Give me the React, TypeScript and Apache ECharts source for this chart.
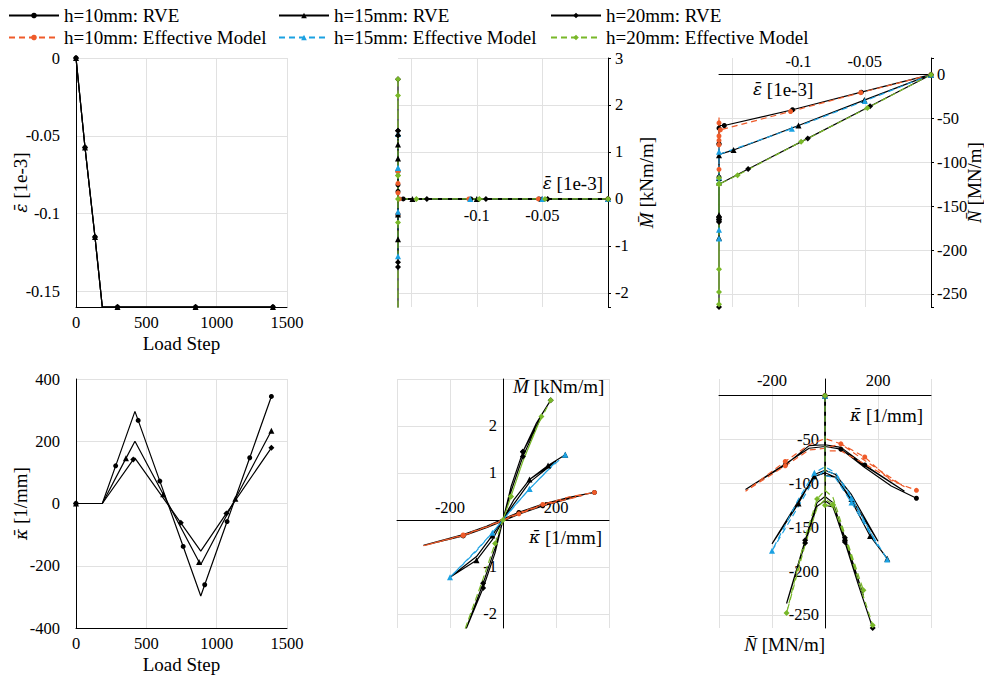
import React, { useEffect, useRef } from "react";
import * as echarts from "echarts";

const FONT = "'Liberation Serif', 'DejaVu Serif', serif";
const GREEK_FONT = "'DejaVu Serif', serif";
const GRID_COLOR = "#e1e1e1";
const RED = "#ef5b2a";
const BLUE = "#1ba1e2";
const GREEN = "#79b829";
const BLACK = "#000000";

const NAME_R10 = "h=10mm: RVE";
const NAME_R15 = "h=15mm: RVE";
const NAME_R20 = "h=20mm: RVE";
const NAME_E10 = "h=10mm: Effective Model";
const NAME_E15 = "h=15mm: Effective Model";
const NAME_E20 = "h=20mm: Effective Model";

// ---- Panel 1: strain vs load step (RVE, identical for all h)
const epsSteps = [0, 64, 135, 187, 295, 850, 1400];
const epsValues = [0, -0.0575, -0.115, -0.16, -0.16, -0.16, -0.16];
const epsMarks = [0, 1, 2, 4, 5, 6];

// ---- Panel 4: curvature vs load step (RVE)
const kSteps10 = [0, 187, 282, 419, 442, 596, 762, 887, 915, 1074, 1235, 1389];
const kVals10 = [0, 0, 121, 296, 267, 72, -138, -297, -261, -58, 147, 344];
const kMarks10 = [0, 2, 4, 5, 6, 8, 9, 10, 11];
const kSteps15 = [0, 187, 355, 419, 620, 875, 887, 1133, 1389];
const kVals15 = [0, 0, 145, 200, 30, -188, -196, 15, 234];
const kMarks15 = [0, 2, 4, 5, 7, 8];
const kSteps20 = [0, 187, 407, 419, 745, 887, 1069, 1389];
const kVals20 = [0, 0, 141, 146, -62, -153, -32, 179];
const kMarks20 = [0, 2, 4, 6, 7];

// ---- Pre-compression ramp (strain, normal force), before curvature cycling
const EPS_HOLD = -0.16;
const rampEpsR10 = [0, -0.0526, -0.1045, -0.156];
const rampNR10 = [0, -20, -40, -58];
const rampEpsE10 = [0, -0.053, -0.106, -0.159];
const rampNE10 = [0, -20.5, -42, -63];
const rampEpsR15 = [0, -0.0503, -0.1, -0.149];
const rampNR15 = [0, -29, -58, -86];
const rampEpsE15 = [0, -0.05, -0.105];
const rampNE15 = [0, -30, -61.6];
const rampEpsR20 = [0, -0.046, -0.093, -0.138];
const rampNR20 = [0, -36, -72.7, -107.6];
const rampEpsE20 = [0, -0.048, -0.098, -0.146];
const rampNE20 = [0, -38, -76.6, -114.6];

// ---- Curvature cycle paths (1/mm)
const kPath10 = [0, 60, 150, 300, 150, 60, 0, -60, -150, -300, -150, -60, 0, 60, 150, 250, 345];
const kPath15 = [0, 40, 100, 200, 100, 40, 0, -40, -100, -200, -100, -40, 0, 40, 100, 170, 235];
const kPath20 = [0, 30, 75, 145, 75, 30, 0, -30, -75, -145, -75, -30, 0, 30, 75, 125, 180];

// Moment along the cycle (kNm/m)
const mR10 = [0, 0.15, 0.33, 0.53, 0.3, 0.12, -0.02, -0.16, -0.34, -0.54, -0.31, -0.13, 0.02, 0.16, 0.34, 0.48, 0.585];
const mE10 = [0, 0.14, 0.32, 0.52, 0.31, 0.13, -0.01, -0.15, -0.33, -0.55, -0.32, -0.14, 0.01, 0.15, 0.33, 0.49, 0.585];
const mR15 = [0, 0.42, 0.86, 1.25, 0.8, 0.33, 0.0, -0.42, -0.86, -1.22, -0.78, -0.33, 0.02, 0.42, 0.86, 1.16, 1.39];
const mE15 = [0, 0.28, 0.66, 1.24, 0.66, 0.27, 0.0, -0.27, -0.64, -1.22, -0.66, -0.27, 0, 0.28, 0.66, 1.06, 1.39];
const mR20 = [0, 0.7, 1.45, 2.2, 1.35, 0.6, 0.0, -0.7, -1.45, -2.4, -1.35, -0.6, 0.0, 0.7, 1.45, 2.05, 2.55];
const mE20 = [0, 0.5, 1.25, 2.2, 1.25, 0.5, 0.0, -0.5, -1.25, -2.35, -1.25, -0.5, 0, 0.5, 1.25, 1.95, 2.55];

// Normal force along the cycle (MN/m)
const nR10 = [-58, -61, -80, -109, -79, -59, -56, -57, -79, -107, -78, -60, -58, -61, -82, -103, -117];
const nE10 = [-63, -63, -78, -104, -74, -55, -49, -56, -75, -109, -80, -62, -60, -55, -70, -97, -108];
const nR15 = [-91, -93, -118, -166, -113, -90, -85, -90, -123, -169, -120, -92, -88, -93, -120, -160, -186];
const nE15 = [-91, -94, -122, -172, -115, -88, -81, -88, -118, -177, -126, -95, -85, -90, -117, -155, -187];
const nR20 = [-125, -127, -165, -228, -162, -122, -115, -122, -165, -237, -168, -126, -120, -126, -167, -215, -265];
const nE20 = [-125, -125, -160, -222, -158, -116, -108, -118, -162, -248, -170, -128, -118, -124, -162, -210, -262];

// Marker indices along the cycle
const cMarksR10 = [4, 8, 13, 16];
const cMarksE10 = [5, 8, 10, 14, 16];
const cMarksR15 = [2, 8, 11, 15, 16];
const cMarksE15 = [2, 7, 9, 14, 16];
const cMarksR20 = [2, 4, 8, 10, 14, 16];
const cMarksE20 = [0, 1, 3, 7, 9, 13, 16];

type Pt = [number, number];
const zipPts = (xs: number[], ys: number[]): Pt[] => xs.map((x, i) => [x, ys[i]] as Pt);
const withMarks = (pts: Pt[], marks: number[]) =>
  pts.map((p, i) => (marks.includes(i) ? { value: p } : { value: p, symbol: "none" }));

const holdPath = (rampX: number[], rampY: number[], cycleY: number[], cycleMarks: number[]) => {
  const pts: Pt[] = [...zipPts(rampX, rampY), ...cycleY.map((y) => [EPS_HOLD, y] as Pt)];
  const marks = [...rampX.map((_, i) => i), ...cycleMarks.map((i) => i + rampX.length)];
  return withMarks(pts, marks);
};
const zeroRamp = (rampX: number[]) => rampX.map(() => 0);
const withStart = (ks: number[], ns: number[], marks: number[]) =>
  withMarks([[0, 0], ...zipPts(ks, ns)], [0, ...marks.map((i) => i + 1)]);

const fmt = (v: number) => String(parseFloat(v.toFixed(4)));
const only = (vals: number[]) => (v: number) =>
  vals.some((a) => Math.abs(a - v) < 1e-7) ? fmt(v) : "";

const LABEL = { fontFamily: FONT, fontSize: 16.5, color: BLACK };
const NAME_STYLE = (extra: any = {}) => ({
  fontFamily: FONT,
  fontSize: 19,
  color: BLACK,
  rich: {
    i: { fontFamily: FONT, fontSize: 19, fontStyle: "italic", color: BLACK },
    g: { fontFamily: GREEK_FONT, fontSize: 17, fontStyle: "italic", color: BLACK },
  },
  ...extra,
});
const AX_LINE = () => ({ show: true, onZero: false, lineStyle: { color: BLACK, width: 1 } });
const SPLIT = (extra: any = {}) => ({ show: true, lineStyle: { color: GRID_COLOR, width: 1 }, ...extra });

const EPS_NAME = "{g|ε\u0304} [1e-3]";
const M_NAME = "{i|M\u0304} [kNm/m]";
const N_NAME = "{i|N\u0304} [MN/m]";
const K_NAME = "{g|κ\u0304} [1/mm]";

function line(name: string, grid: number, data: any[], color: string, dashed: boolean, symbol: string) {
  return {
    type: "line",
    name,
    xAxisIndex: grid,
    yAxisIndex: grid,
    data,
    symbol,
    symbolSize: symbol === "circle" ? 5 : 6,
    showSymbol: true,
    lineStyle: { color, width: 1.2, type: dashed ? [6, 4] : "solid" },
    itemStyle: { color },
    emphasis: { disabled: true },
    silent: true,
  };
}

type Offs = { x1: number; x2: number; x4: number; x5: number; y4: number; y5: number };

function buildAxes(o: Offs) {
  const common = { type: "value", nameMoveOverlap: false, axisTick: { show: false } };
  const xAxis = [
    {
      ...common, gridIndex: 0, min: 0, max: 1500, interval: 500,
      axisLine: AX_LINE(), splitLine: SPLIT(),
      axisLabel: { ...LABEL, margin: 7, formatter: fmt },
      name: "Load Step", nameLocation: "middle", nameGap: 27, nameTextStyle: NAME_STYLE(),
    },
    {
      ...common, gridIndex: 1, min: -0.16, max: 0, splitNumber: 3, offset: o.x1,
      axisLine: AX_LINE(), splitLine: SPLIT({ showMinLine: false }),
      axisLabel: { ...LABEL, margin: 8, verticalAlign: "top", formatter: only([-0.1, -0.05]) },
      name: EPS_NAME, nameLocation: "end", nameGap: -5,
      nameTextStyle: NAME_STYLE({ align: "right", verticalAlign: "bottom", padding: [0, 0, 6, 0] }),
    },
    {
      ...common, gridIndex: 2, min: -0.16, max: 0, splitNumber: 3, offset: o.x2,
      axisLine: AX_LINE(), splitLine: SPLIT({ showMinLine: false }),
      axisLabel: { ...LABEL, inside: true, margin: 5, formatter: only([-0.1, -0.05]) },
      name: EPS_NAME, nameLocation: "start", nameGap: -34,
      nameTextStyle: NAME_STYLE({ align: "left", verticalAlign: "top", padding: [5, 0, 0, 0] }),
    },
    {
      ...common, gridIndex: 3, min: 0, max: 1500, interval: 500,
      axisLine: AX_LINE(), splitLine: SPLIT(),
      axisLabel: { ...LABEL, margin: 7, formatter: fmt },
      name: "Load Step", nameLocation: "middle", nameGap: 27, nameTextStyle: NAME_STYLE(),
    },
    {
      ...common, gridIndex: 4, min: -400, max: 400, interval: 200, offset: o.x4,
      axisLine: AX_LINE(), splitLine: SPLIT(),
      axisLabel: { ...LABEL, inside: true, margin: 4, formatter: only([-200, 200]) },
      name: K_NAME, nameLocation: "end", nameGap: -7,
      nameTextStyle: NAME_STYLE({ align: "right", verticalAlign: "top", padding: [8, 0, 0, 0] }),
    },
    {
      ...common, gridIndex: 5, min: -400, max: 400, interval: 200, offset: o.x5,
      axisLine: AX_LINE(), splitLine: SPLIT(),
      axisLabel: { ...LABEL, inside: true, margin: 7, formatter: only([-200, 200]) },
      name: K_NAME, nameLocation: "end", nameGap: -8,
      nameTextStyle: NAME_STYLE({ align: "right", verticalAlign: "top", padding: [10, 0, 0, 0] }),
    },
  ];

  const yAxis = [
    {
      ...common, gridIndex: 0, min: -0.16, max: 0, splitNumber: 3,
      axisLine: AX_LINE(), splitLine: SPLIT({ showMinLine: false }),
      axisLabel: { ...LABEL, margin: 16, formatter: only([0, -0.05, -0.1, -0.15]) },
      name: EPS_NAME, nameLocation: "middle", nameGap: 46, nameRotate: 90, nameTextStyle: NAME_STYLE(),
    },
    {
      ...common, gridIndex: 1, position: "right", min: -2.3, max: 3,
      axisLine: AX_LINE(), splitLine: SPLIT({ showMinLine: false }),
      axisTick: { show: true, length: 3, lineStyle: { color: BLACK } },
      axisLabel: { ...LABEL, margin: 7, formatter: only([-2, -1, 0, 1, 2, 3]) },
      name: M_NAME, nameLocation: "middle", nameGap: 29, nameRotate: 90, nameTextStyle: NAME_STYLE(),
    },
    {
      ...common, gridIndex: 2, position: "right", min: -265, max: 19,
      axisLine: AX_LINE(), splitLine: SPLIT({ showMinLine: false, showMaxLine: false }),
      axisTick: { show: true, length: 3, lineStyle: { color: BLACK } },
      axisLabel: { ...LABEL, margin: 6, formatter: only([0, -50, -100, -150, -200, -250]) },
      name: N_NAME, nameLocation: "middle", nameGap: 34, nameRotate: 90, nameTextStyle: NAME_STYLE(),
    },
    {
      ...common, gridIndex: 3, min: -400, max: 400, interval: 200,
      axisLine: AX_LINE(), splitLine: SPLIT(),
      axisLabel: { ...LABEL, margin: 16 },
      name: K_NAME, nameLocation: "middle", nameGap: 46, nameRotate: 90, nameTextStyle: NAME_STYLE(),
    },
    {
      ...common, gridIndex: 4, min: -2.3, max: 3, offset: o.y4,
      axisLine: AX_LINE(), splitLine: SPLIT({ showMinLine: false }),
      axisLabel: { ...LABEL, margin: 6, formatter: only([-2, -1, 1, 2]) },
      name: M_NAME, nameLocation: "end", nameGap: 2,
      nameTextStyle: NAME_STYLE({ align: "left", verticalAlign: "top", padding: [0, 0, 0, 10] }),
    },
    {
      ...common, gridIndex: 5, min: -265, max: 19, offset: o.y5,
      axisLine: AX_LINE(), splitLine: SPLIT({ showMinLine: false, showMaxLine: false }),
      axisLabel: { ...LABEL, margin: 6, formatter: only([-50, -100, -150, -200, -250]) },
      name: N_NAME, nameLocation: "start", nameGap: 7,
      nameTextStyle: NAME_STYLE({ align: "right", verticalAlign: "top" }),
    },
  ];
  return { xAxis, yAxis };
}

export default function App() {
  const ref = useRef<HTMLDivElement>(null);
  useEffect(() => {
    if (!ref.current) return;
    const chart = echarts.init(ref.current, undefined, { renderer: "svg" });

    const grids = [
      { left: 76, top: 58, width: 211, height: 249 },
      { left: 398, top: 58, width: 210, height: 249 },
      { left: 719, top: 58, width: 212, height: 249 },
      { left: 76, top: 379, width: 211, height: 249 },
      { left: 397, top: 379, width: 212, height: 249 },
      { left: 719, top: 379, width: 212, height: 249 },
    ].map((g) => ({ ...g, outerBoundsMode: "none", containLabel: false }));

    const p1 = withMarks(zipPts(epsSteps, epsValues), epsMarks);

    const series: any[] = [
      // Panel 1
      line(NAME_R10, 0, p1, BLACK, false, "circle"),
      line(NAME_R15, 0, p1, BLACK, false, "triangle"),
      line(NAME_R20, 0, p1, BLACK, false, "diamond"),
      // Panel 2: M vs eps
      line(NAME_R10, 1, holdPath(rampEpsR10, zeroRamp(rampEpsR10), mR10, cMarksR10), BLACK, false, "circle"),
      line(NAME_E10, 1, holdPath(rampEpsE10, zeroRamp(rampEpsE10), mE10, cMarksE10), RED, true, "circle"),
      line(NAME_R15, 1, holdPath(rampEpsR15, zeroRamp(rampEpsR15), mR15, cMarksR15), BLACK, false, "triangle"),
      line(NAME_E15, 1, holdPath(rampEpsE15, zeroRamp(rampEpsE15), mE15, cMarksE15), BLUE, true, "triangle"),
      line(NAME_R20, 1, holdPath(rampEpsR20, zeroRamp(rampEpsR20), mR20, cMarksR20), BLACK, false, "diamond"),
      line(NAME_E20, 1, holdPath(rampEpsE20, zeroRamp(rampEpsE20), mE20, cMarksE20), GREEN, true, "diamond"),
      // Panel 3: N vs eps
      line(NAME_R10, 2, holdPath(rampEpsR10, rampNR10, nR10, cMarksR10), BLACK, false, "circle"),
      line(NAME_E10, 2, holdPath(rampEpsE10, rampNE10, nE10, cMarksE10), RED, true, "circle"),
      line(NAME_R15, 2, holdPath(rampEpsR15, rampNR15, nR15, cMarksR15), BLACK, false, "triangle"),
      line(NAME_E15, 2, holdPath(rampEpsE15, rampNE15, nE15, cMarksE15), BLUE, true, "triangle"),
      line(NAME_R20, 2, holdPath(rampEpsR20, rampNR20, nR20, cMarksR20), BLACK, false, "diamond"),
      line(NAME_E20, 2, holdPath(rampEpsE20, rampNE20, nE20, cMarksE20), GREEN, true, "diamond"),
      // Panel 4: kappa vs load step
      line(NAME_R10, 3, withMarks(zipPts(kSteps10, kVals10), kMarks10), BLACK, false, "circle"),
      line(NAME_R15, 3, withMarks(zipPts(kSteps15, kVals15), kMarks15), BLACK, false, "triangle"),
      line(NAME_R20, 3, withMarks(zipPts(kSteps20, kVals20), kMarks20), BLACK, false, "diamond"),
      // Panel 5: M vs kappa
      line(NAME_R10, 4, withMarks(zipPts(kPath10, mR10), cMarksR10), BLACK, false, "circle"),
      line(NAME_E10, 4, withMarks(zipPts(kPath10, mE10), cMarksE10), RED, true, "circle"),
      line(NAME_R15, 4, withMarks(zipPts(kPath15, mR15), cMarksR15), BLACK, false, "triangle"),
      line(NAME_E15, 4, withMarks(zipPts(kPath15, mE15), cMarksE15), BLUE, true, "triangle"),
      line(NAME_R20, 4, withMarks(zipPts(kPath20, mR20), cMarksR20), BLACK, false, "diamond"),
      line(NAME_E20, 4, withMarks(zipPts(kPath20, mE20), cMarksE20), GREEN, true, "diamond"),
      // Panel 6: N vs kappa (initial compression at kappa = 0 included)
      line(NAME_R10, 5, withStart(kPath10, nR10, cMarksR10), BLACK, false, "circle"),
      line(NAME_E10, 5, withStart(kPath10, nE10, cMarksE10), RED, true, "circle"),
      line(NAME_R15, 5, withStart(kPath15, nR15, cMarksR15), BLACK, false, "triangle"),
      line(NAME_E15, 5, withStart(kPath15, nE15, cMarksE15), BLUE, true, "triangle"),
      line(NAME_R20, 5, withStart(kPath20, nR20, cMarksR20), BLACK, false, "diamond"),
      line(NAME_E20, 5, withStart(kPath20, nE20, cMarksE20), GREEN, true, "diamond"),
    ];

    const legendBase = {
      orient: "vertical",
      top: 6,
      padding: 0,
      itemWidth: 50,
      itemHeight: 7,
      itemGap: 3,
      selectedMode: false,
      textStyle: { fontFamily: FONT, fontSize: 19, color: BLACK },
    };

    chart.setOption({
      animation: false,
      backgroundColor: "#ffffff",
      textStyle: { fontFamily: FONT },
      grid: grids,
      ...buildAxes({ x1: 0, x2: 0, x4: 0, x5: 0, y4: 0, y5: 0 }),
      legend: [
        { ...legendBase, left: 8, data: [NAME_R10, NAME_E10] },
        { ...legendBase, left: 278, data: [NAME_R15, NAME_E15] },
        { ...legendBase, left: 550, data: [NAME_R20, NAME_E20] },
      ],
      series,
    });

    // Move the "origin" axes onto the zero of the other axis, using the library's scales.
    const py = (i: number, v: number) => chart.convertToPixel({ yAxisIndex: i } as any, v) as number;
    const px = (i: number, v: number) => chart.convertToPixel({ xAxisIndex: i } as any, v) as number;
    const offs: Offs = {
      x1: py(1, 0) - py(1, -2.3),
      x2: py(2, 0) - py(2, -265),
      x4: py(4, 0) - py(4, -2.3),
      x5: py(5, 0) - py(5, -265),
      y4: px(4, -400) - px(4, 0),
      y5: px(5, -400) - px(5, 0),
    };
    chart.setOption(buildAxes(offs));

    return () => chart.dispose();
  }, []);

  return (
    <div
      ref={ref}
      style={{ position: "fixed", left: 0, top: 0, width: 984, height: 678, background: "#fff" }}
    />
  );
}
